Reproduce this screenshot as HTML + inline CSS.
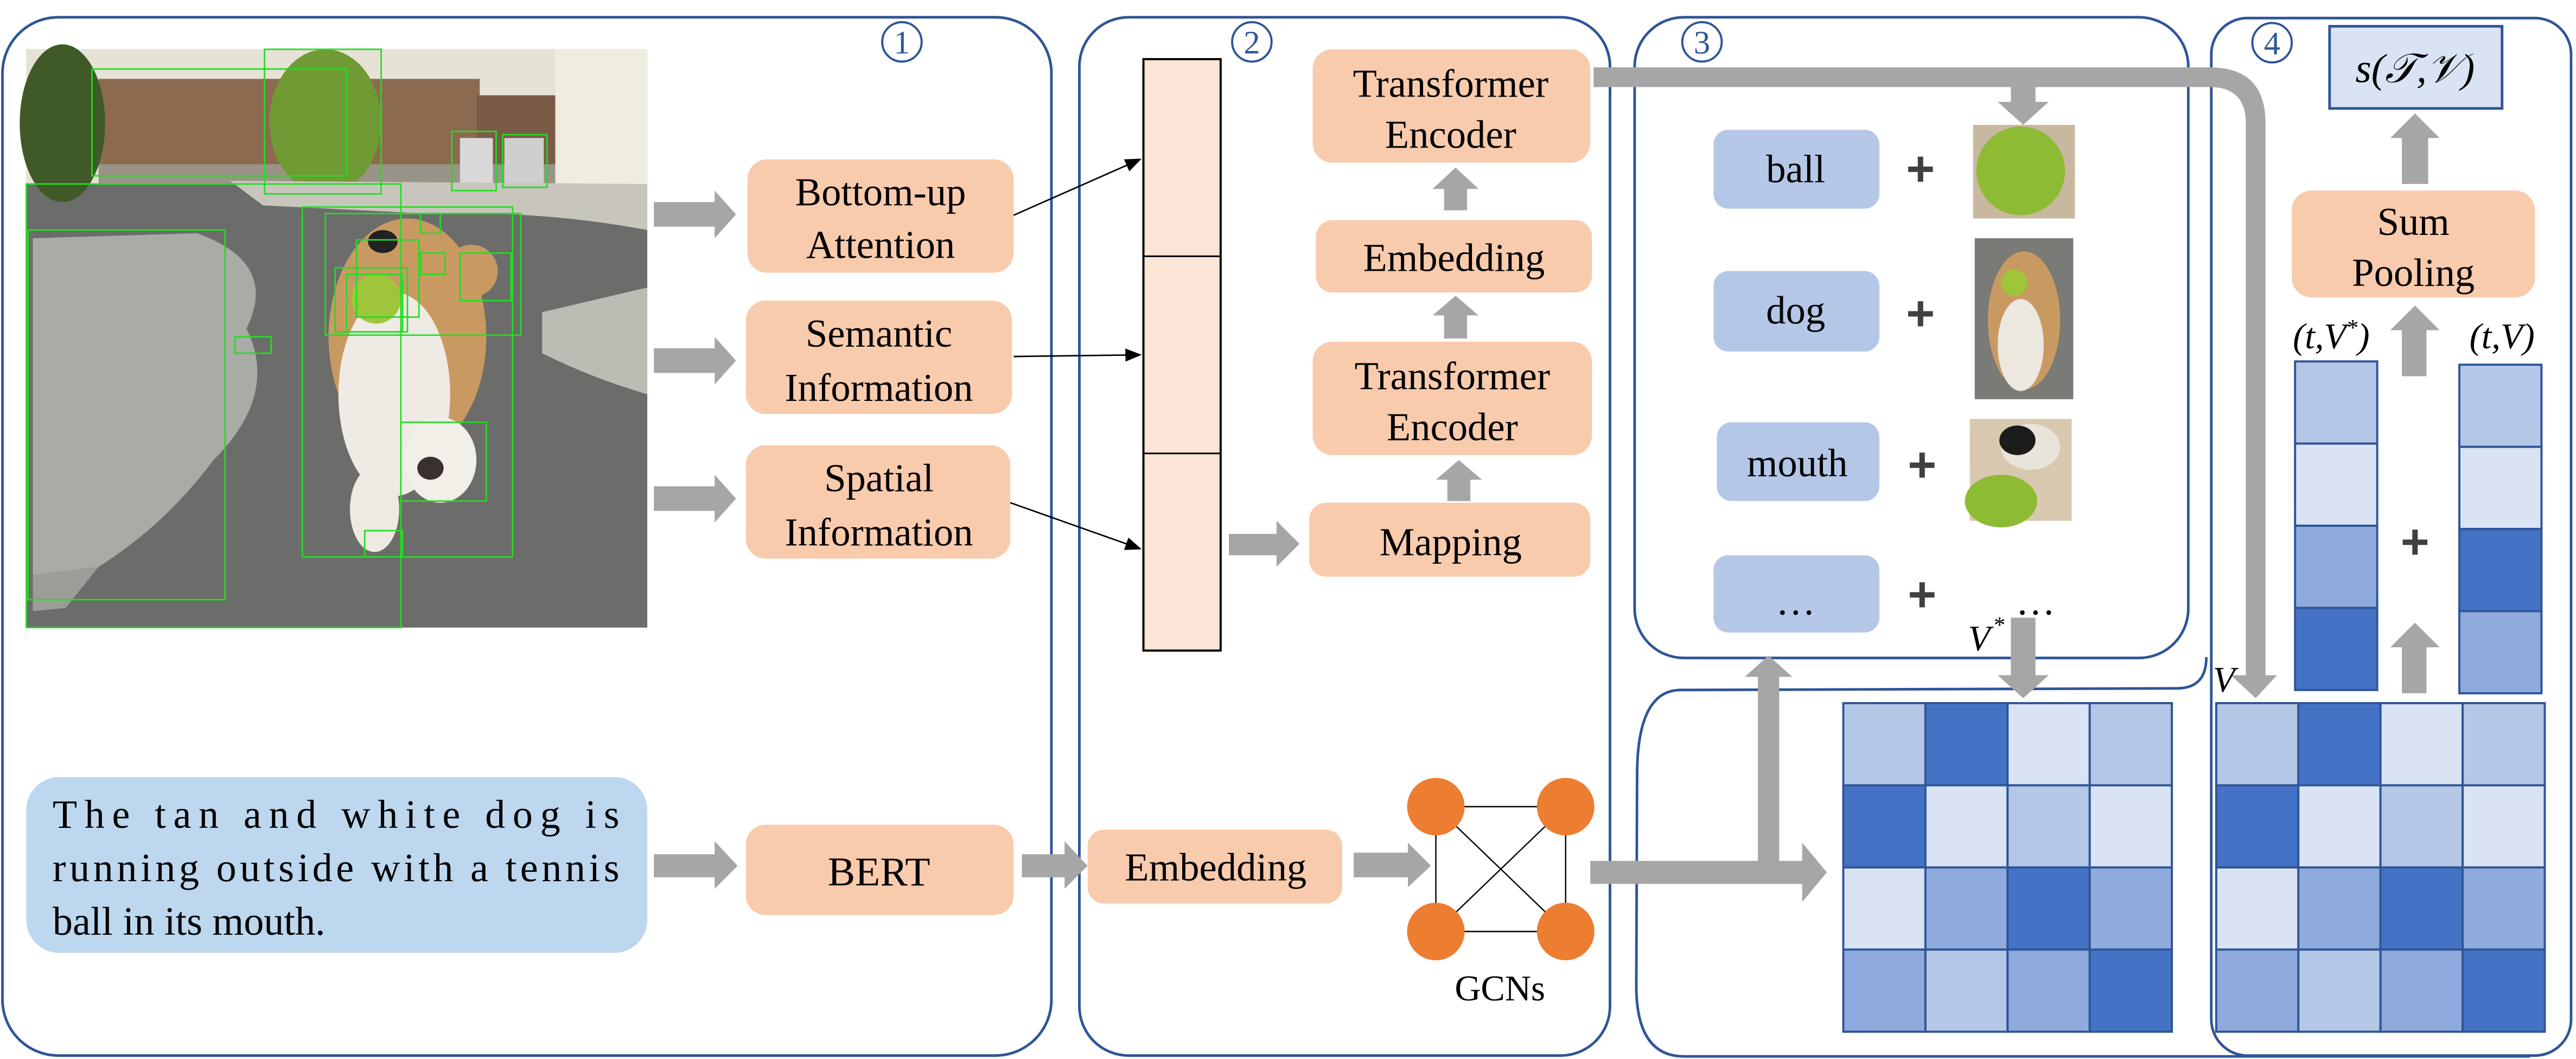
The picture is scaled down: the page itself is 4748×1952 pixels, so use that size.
<!DOCTYPE html>
<html><head><meta charset="utf-8"><style>
html,body{margin:0;padding:0;background:#fff;}
svg{display:block;}
text{font-family:"Liberation Serif","DejaVu Serif",serif;fill:#000;}
</style></head><body>
<svg width="4748" height="1952" viewBox="0 0 1568 644.6" preserveAspectRatio="none" xmlns="http://www.w3.org/2000/svg">
<rect x="0" y="0" width="1568" height="644.6" fill="#fff"/>

<g fill="none" stroke="#2f5597" stroke-width="1.6">
<rect x="1.5" y="10.5" width="638.5" height="632" rx="34"/>
<rect x="657" y="10.5" width="323" height="632" rx="30"/>
<rect x="995" y="10.5" width="337" height="390" rx="30"/>
<rect x="1346" y="11" width="219" height="631.5" rx="22"/>
<path d="M1343 400 Q1343 419 1325 419 L1022 420 Q997 421 996.5 470 L996 600 Q996 643 1025 643 L1540 643"/>
</g>
<g fill="#fff" stroke="#2f5597" stroke-width="1.3">
<circle cx="549" cy="25.5" r="12"/>
<circle cx="762" cy="25.5" r="12"/>
<circle cx="1036" cy="25.5" r="12"/>
<circle cx="1383" cy="26" r="12"/>
</g>
<g font-size="20" text-anchor="middle">
<text x="549" y="32.5" style="fill:#2f5597">1</text>
<text x="762" y="32.5" style="fill:#2f5597">2</text>
<text x="1036" y="32.5" style="fill:#2f5597">3</text>
<text x="1383" y="33" style="fill:#2f5597">4</text>
</g>

<g>
<rect x="16" y="30" width="378" height="352" fill="#6c6c6a"/>
<rect x="16" y="30" width="378" height="82" fill="#e6e2d6"/>
<rect x="60" y="48" width="232" height="58" fill="#8c6a50"/>
<rect x="290" y="58" width="50" height="56" fill="#7a5c46"/>
<rect x="60" y="100" width="280" height="12" fill="#9a9488"/>
<rect x="338" y="30" width="56" height="84" fill="#f0ecdf"/>
<ellipse cx="38" cy="75" rx="26" ry="48" fill="#3f5a26"/>
<ellipse cx="198" cy="74" rx="34" ry="44" fill="#6f9a34"/>
<rect x="280" y="84" width="20" height="30" fill="#d8d8d8"/>
<rect x="307" y="84" width="24" height="30" fill="#cfcfcf"/>
<path d="M140 110 L394 112 L394 140 Q330 128 260 130 L160 125 Z" fill="#c8c6bc"/>
<path d="M330 190 L394 175 L394 240 Q360 230 330 215 Z" fill="#bdbcb4"/>
<path d="M20 145 L120 142 Q170 160 150 200 Q170 240 130 280 Q100 320 60 345 L20 350 Z" fill="#a9aba5"/>
<path d="M20 350 L60 345 L40 370 L20 372Z" fill="#9c9d98"/>
<ellipse cx="248" cy="205" rx="48" ry="72" fill="#c89a62"/>
<ellipse cx="240" cy="240" rx="34" ry="62" fill="#efebe4"/>
<ellipse cx="268" cy="280" rx="22" ry="26" fill="#f2eee8"/>
<ellipse cx="228" cy="310" rx="15" ry="26" fill="#eeeae2"/>
<ellipse cx="287" cy="165" rx="16" ry="16" fill="#c89a62"/>
<circle cx="229" cy="182" r="15" fill="#9fc63a"/>
<ellipse cx="233" cy="147" rx="9" ry="7" fill="#222"/>
<ellipse cx="262" cy="285" rx="8" ry="7" fill="#3a3030"/>
</g>
<g fill="none" stroke="#22dd22" stroke-width="0.9">
<rect x="56" y="42" width="155" height="65"/>
<rect x="161" y="30" width="71" height="88"/>
<rect x="275" y="80" width="27" height="36"/>
<rect x="306" y="82" width="27" height="32"/>
<rect x="16" y="112" width="228" height="270"/>
<rect x="17" y="140" width="120" height="225"/>
<rect x="184" y="126" width="128" height="213"/>
<rect x="198" y="130" width="119" height="74"/>
<rect x="217" y="146" width="38" height="47"/>
<rect x="204" y="163" width="44" height="39"/>
<rect x="211" y="167" width="34" height="35"/>
<rect x="256" y="130" width="12" height="12"/>
<rect x="256" y="154" width="15" height="13"/>
<rect x="280" y="154" width="31" height="29"/>
<rect x="143" y="205" width="22" height="10"/>
<rect x="244" y="257" width="52" height="48"/>
<rect x="222" y="323" width="23" height="16"/>
</g>

<g fill="#a6a6a6">
<path d="M398 123 H435 V116 L448 130.5 L435 145 V138 H398Z"/>
<path d="M398 212 H435 V205 L448 219.5 L435 234 V227 H398Z"/>
<path d="M398 296 H435 V289 L448 303.5 L435 318 V311 H398Z"/>
<path d="M398 520 H435 V512 L449 527 L435 541 V534 H398Z"/>
<path d="M622 520 H648 V512 L662 527 L648 541 V534 H622Z"/>
</g>

<g fill="#f8cbad">
<rect x="455" y="97" width="162" height="69" rx="12"/>
<rect x="454" y="183" width="162" height="69" rx="12"/>
<rect x="454" y="271" width="161" height="69" rx="12"/>
<rect x="454" y="502" width="163" height="55" rx="12"/>
</g>
<g font-size="24" text-anchor="middle">
<text x="536" y="125">Bottom-up</text>
<text x="536" y="157">Attention</text>
<text x="535" y="211">Semantic</text>
<text x="535" y="244">Information</text>
<text x="535" y="299">Spatial</text>
<text x="535" y="332">Information</text>
<text x="535" y="539" font-size="25">BERT</text>
</g>

<rect x="16" y="473" width="378" height="107" rx="20" fill="#bdd7ee"/>
<g font-size="24.5">
<text x="32" y="504" textLength="345" lengthAdjust="spacing">The tan and white dog is</text>
<text x="32" y="536.5" textLength="345" lengthAdjust="spacing">running outside with a tennis</text>
<text x="32" y="569">ball in its mouth.</text>
</g>

<defs>
<marker id="ah" markerWidth="10" markerHeight="8" refX="9" refY="4" orient="auto" markerUnits="userSpaceOnUse">
<path d="M0 0 L10 4 L0 8Z" fill="#000"/>
</marker>
</defs>
<g stroke="#000" stroke-width="0.9" fill="none">
<line x1="617" y1="131" x2="694" y2="97" marker-end="url(#ah)"/>
<line x1="617" y1="217" x2="694" y2="216" marker-end="url(#ah)"/>
<line x1="615" y1="306" x2="694" y2="334" marker-end="url(#ah)"/>
</g>

<rect x="696" y="36" width="47" height="360" fill="#fbe5d6" stroke="#000" stroke-width="1.3"/>
<line x1="696" y1="156" x2="743" y2="156" stroke="#000" stroke-width="1"/>
<line x1="696" y1="276" x2="743" y2="276" stroke="#000" stroke-width="1"/>

<g fill="#a6a6a6">
<path d="M748 325 H777 V317 L791 331 L777 345 V338 H748Z"/>
<path d="M879 128 V115 H872 L886 102 L900 115 H893 V128Z"/>
<path d="M879 206 V192 H872 L886 180 L900 192 H893 V206Z"/>
<path d="M881 305 V292 H874 L888 280 L902 292 H895 V305Z"/>
<path d="M824 519 H857 V513 L871 527 L857 540 V534 H824Z"/>
</g>

<g fill="#f8cbad">
<rect x="799" y="30" width="169" height="69" rx="12"/>
<rect x="801" y="134" width="168" height="44" rx="10"/>
<rect x="799" y="208" width="170" height="69" rx="12"/>
<rect x="797" y="306" width="171" height="45" rx="10"/>
<rect x="662" y="505" width="155" height="45" rx="10"/>
</g>
<g font-size="24" text-anchor="middle">
<text x="883" y="59">Transformer</text>
<text x="883" y="90">Encoder</text>
<text x="885" y="165">Embedding</text>
<text x="884" y="237">Transformer</text>
<text x="884" y="268">Encoder</text>
<text x="883" y="338">Mapping</text>
<text x="740" y="536">Embedding</text>
<text x="913" y="609" font-size="22">GCNs</text>
</g>

<g stroke="#000" stroke-width="0.8">
<line x1="874" y1="491" x2="953" y2="491"/>
<line x1="874" y1="567" x2="953" y2="567"/>
<line x1="874" y1="491" x2="874" y2="567"/>
<line x1="953" y1="491" x2="953" y2="567"/>
<line x1="874" y1="491" x2="953" y2="567"/>
<line x1="953" y1="491" x2="874" y2="567"/>
</g>
<g fill="#ed7d31">
<circle cx="874" cy="491" r="17.5"/>
<circle cx="953" cy="491" r="17.5"/>
<circle cx="874" cy="567" r="17.5"/>
<circle cx="953" cy="567" r="17.5"/>
</g>

<g fill="#a6a6a6">
<path d="M970 41 H1345 Q1379 41 1379 75 V411 H1386 L1373 425 L1358 411 H1367 V75 Q1367 53 1345 53 H970Z"/>
<rect x="1224" y="53" width="15" height="10"/>
<path d="M1216 62 H1247 L1231.5 76Z"/>
<path d="M968 524 H1070 V412 H1062 L1076.5 399 L1091 412 H1083 V524 H1097 V513 L1112 531 L1097 549 V538 H968Z"/>
<path d="M1224 376 H1239 V411 H1247 L1231.5 425 L1216 411 H1224Z"/>
</g>

<g fill="#b4c7e7">
<rect x="1043" y="79" width="101" height="48" rx="9"/>
<rect x="1043" y="165" width="101" height="49" rx="9"/>
<rect x="1045" y="257" width="99" height="48" rx="9"/>
<rect x="1043" y="338" width="101" height="47" rx="9"/>
</g>
<g font-size="24" text-anchor="middle">
<text x="1093" y="111">ball</text>
<text x="1093" y="197">dog</text>
<text x="1094" y="290">mouth</text>
<text x="1093" y="374">…</text>
<text x="1239" y="374">…</text>
</g>
<g font-size="30" font-weight="bold" text-anchor="middle">
<text x="1169" y="113" style="fill:#404040;font-family:'Liberation Sans',sans-serif">+</text>
<text x="1169" y="201" style="fill:#404040;font-family:'Liberation Sans',sans-serif">+</text>
<text x="1170" y="293" style="fill:#404040;font-family:'Liberation Sans',sans-serif">+</text>
<text x="1170" y="372" style="fill:#404040;font-family:'Liberation Sans',sans-serif">+</text>
<text x="1470" y="340" style="fill:#404040;font-family:'Liberation Sans',sans-serif">+</text>
</g>
<g>
<rect x="1201" y="76" width="62" height="57" fill="#c9b8a0"/>
<circle cx="1230" cy="104" r="27" fill="#8dbb34"/>
<rect x="1202" y="145" width="60" height="98" fill="#7a7a76"/>
<ellipse cx="1232" cy="195" rx="22" ry="42" fill="#c89a62"/>
<ellipse cx="1230" cy="210" rx="14" ry="28" fill="#ece8e0"/>
<circle cx="1226" cy="172" r="8" fill="#9fc63a"/>
<rect x="1199" y="255" width="62" height="62" fill="#d8c8b0"/>
<ellipse cx="1236" cy="272" rx="18" ry="14" fill="#e8e4dc"/>
<ellipse cx="1228" cy="268" rx="11" ry="9" fill="#1c1c1c"/>
<ellipse cx="1218" cy="305" rx="22" ry="16" fill="#8dbb34"/>
</g>
<g font-size="22" font-style="italic">
<text x="1198" y="396">V</text>
<text x="1213" y="385" font-size="14">*</text>
<text x="1347" y="421">V</text>
</g>

<g stroke="#2f5597" stroke-width="1.3">
<rect x="1122" y="428" width="50" height="50" fill="#b4c7e7"/>
<rect x="1172" y="428" width="50" height="50" fill="#4472c4"/>
<rect x="1222" y="428" width="50" height="50" fill="#dae3f3"/>
<rect x="1272" y="428" width="50" height="50" fill="#b4c7e7"/>
<rect x="1122" y="478" width="50" height="50" fill="#4472c4"/>
<rect x="1172" y="478" width="50" height="50" fill="#dae3f3"/>
<rect x="1222" y="478" width="50" height="50" fill="#b4c7e7"/>
<rect x="1272" y="478" width="50" height="50" fill="#dae3f3"/>
<rect x="1122" y="528" width="50" height="50" fill="#dae3f3"/>
<rect x="1172" y="528" width="50" height="50" fill="#8faadc"/>
<rect x="1222" y="528" width="50" height="50" fill="#4472c4"/>
<rect x="1272" y="528" width="50" height="50" fill="#8faadc"/>
<rect x="1122" y="578" width="50" height="50" fill="#8faadc"/>
<rect x="1172" y="578" width="50" height="50" fill="#b4c7e7"/>
<rect x="1222" y="578" width="50" height="50" fill="#8faadc"/>
<rect x="1272" y="578" width="50" height="50" fill="#4472c4"/>
<rect x="1349" y="428" width="50" height="50" fill="#b4c7e7"/>
<rect x="1399" y="428" width="50" height="50" fill="#4472c4"/>
<rect x="1449" y="428" width="50" height="50" fill="#dae3f3"/>
<rect x="1499" y="428" width="50" height="50" fill="#b4c7e7"/>
<rect x="1349" y="478" width="50" height="50" fill="#4472c4"/>
<rect x="1399" y="478" width="50" height="50" fill="#dae3f3"/>
<rect x="1449" y="478" width="50" height="50" fill="#b4c7e7"/>
<rect x="1499" y="478" width="50" height="50" fill="#dae3f3"/>
<rect x="1349" y="528" width="50" height="50" fill="#dae3f3"/>
<rect x="1399" y="528" width="50" height="50" fill="#8faadc"/>
<rect x="1449" y="528" width="50" height="50" fill="#4472c4"/>
<rect x="1499" y="528" width="50" height="50" fill="#8faadc"/>
<rect x="1349" y="578" width="50" height="50" fill="#8faadc"/>
<rect x="1399" y="578" width="50" height="50" fill="#b4c7e7"/>
<rect x="1449" y="578" width="50" height="50" fill="#8faadc"/>
<rect x="1499" y="578" width="50" height="50" fill="#4472c4"/>
<rect x="1397" y="220" width="50" height="50" fill="#b4c7e7"/>
<rect x="1397" y="270" width="50" height="50" fill="#dae3f3"/>
<rect x="1397" y="320" width="50" height="50" fill="#8faadc"/>
<rect x="1397" y="370" width="50" height="50" fill="#4472c4"/>
<rect x="1497" y="222" width="50" height="50" fill="#b4c7e7"/>
<rect x="1497" y="272" width="50" height="50" fill="#dae3f3"/>
<rect x="1497" y="322" width="50" height="50" fill="#4472c4"/>
<rect x="1497" y="372" width="50" height="50" fill="#8faadc"/>
</g>

<rect x="1418" y="16" width="105" height="50" fill="#dae3f3" stroke="#2f5597" stroke-width="1.6"/>
<text x="1470" y="50" font-size="25" font-style="italic" text-anchor="middle">s(𝒯,𝒱)</text>
<rect x="1395" y="116" width="148" height="65" rx="12" fill="#f8cbad"/>
<g font-size="24" text-anchor="middle">
<text x="1469" y="143">Sum</text>
<text x="1469" y="174">Pooling</text>
</g>
<g fill="#a6a6a6">
<path d="M1462 112 V84 H1455 L1470 69 L1485 84 H1478 V112Z"/>
<path d="M1462 229 V201 H1455 L1470 186 L1485 201 H1477 V229Z"/>
<path d="M1462 422 V394 H1455 L1470 379 L1485 394 H1477 V422Z"/>
</g>
<g font-size="22" font-style="italic" text-anchor="middle">
<text x="1419" y="212">(t,V<tspan font-size="14" dy="-8">*</tspan><tspan dy="8">)</tspan></text>
<text x="1523" y="212">(t,V)</text>
</g>
</svg>
</body></html>
